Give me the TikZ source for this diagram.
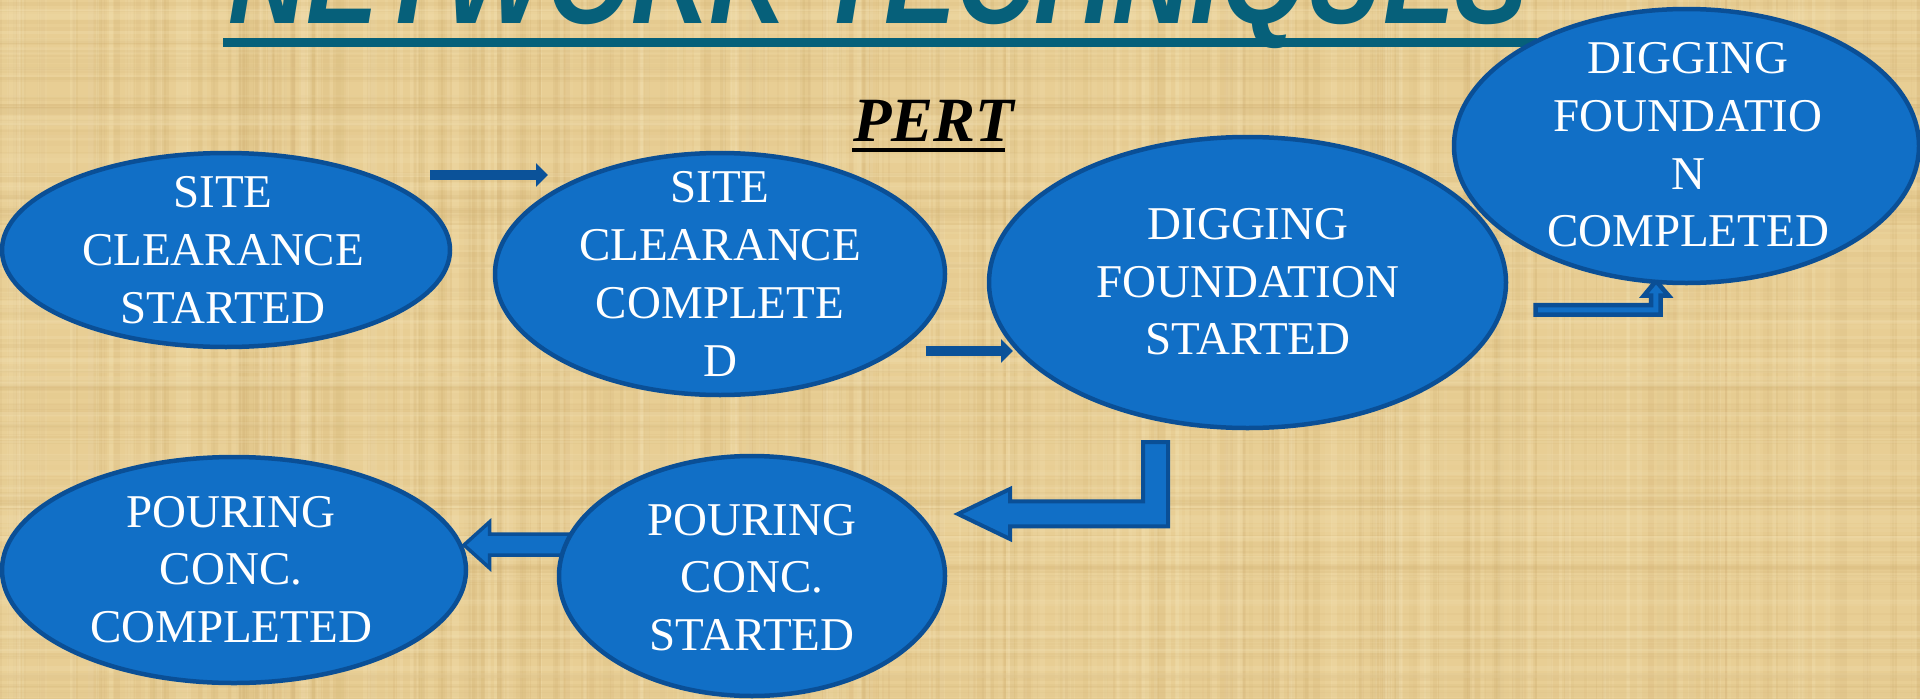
\documentclass[tikz,border=0pt]{standalone}
\usepackage{fontspec}
\setmainfont{Liberation Serif}
\newfontfamily\titlefont{Liberation Sans}
\usetikzlibrary{shapes.geometric,arrows.meta}

\definecolor{papyrus}{RGB}{232,206,148}
\definecolor{papyrusdark}{RGB}{205,172,110}
\definecolor{papyruslight}{RGB}{246,230,186}
\definecolor{eventfill}{RGB}{17,111,198}
\definecolor{eventline}{RGB}{10,79,150}
\definecolor{arrowblue}{RGB}{11,82,153}
\definecolor{titleteal}{RGB}{6,96,122}

\tikzset{
  evt/.style={ellipse, draw=eventline, line width=4.5pt, fill=eventfill, inner sep=0pt},
  evtxt/.style={text=white, align=center, inner sep=0pt,
    font=\fontsize{47}{57.7}\selectfont},
  thinarrow/.style={draw=arrowblue, line width=10.5pt,
    -{Triangle[length=12pt,width=23pt]}},
  blockarrow/.style={draw=eventline, fill=eventfill, line width=4pt, line join=miter}
}

\begin{document}
\begin{tikzpicture}[x=1pt,y=-1pt]
\useasboundingbox (0,0) rectangle (1920,699);
\clip (0,0) rectangle (1920,699);

% papyrus background with fibre streaks
\fill[papyrus] (0,0) rectangle (1920,699);
\pgfmathsetseed{7}
\foreach \i in {1,...,260}{
  \pgfmathsetmacro\xx{rnd*1920}
  \pgfmathsetmacro\ww{1+rnd*7}
  \pgfmathsetmacro\op{0.06+rnd*0.14}
  \fill[papyrusdark, opacity=\op] (\xx,0) rectangle ++(\ww,699);
}
\foreach \i in {1,...,200}{
  \pgfmathsetmacro\xx{rnd*1920}
  \pgfmathsetmacro\ww{1+rnd*6}
  \pgfmathsetmacro\op{0.08+rnd*0.18}
  \fill[papyruslight, opacity=\op] (\xx,0) rectangle ++(\ww,699);
}
\foreach \i in {1,...,120}{
  \pgfmathsetmacro\yy{rnd*699}
  \pgfmathsetmacro\hh{1+rnd*5}
  \pgfmathsetmacro\op{0.05+rnd*0.12}
  \fill[papyrusdark, opacity=\op] (0,\yy) rectangle ++(1920,\hh);
}
\foreach \i in {1,...,100}{
  \pgfmathsetmacro\yy{rnd*699}
  \pgfmathsetmacro\hh{1+rnd*5}
  \pgfmathsetmacro\op{0.06+rnd*0.15}
  \fill[papyruslight, opacity=\op] (0,\yy) rectangle ++(1920,\hh);
}

% heading
\node[anchor=base west, inner sep=0pt, text=titleteal] (title) at (228,23)
  {\resizebox{1300pt}{90pt}{\titlefont\bfseries\itshape NETWORK TECHNIQUES}};
\fill[titleteal] (223,37.7) rectangle (1537,46.5);

\node[anchor=base west, inner sep=0pt,
  font=\fontsize{63}{70}\selectfont\bfseries\itshape] (pert) at (853,141.7) {PERT};
\fill[black] (851.7,148.3) rectangle (1005,151.7);

% free-standing connector ends
\coordinate (a1s) at (430,175);
\coordinate (a1e) at (548,175);
\coordinate (a2s) at (925.5,351);
\coordinate (a2e) at (1013,351);

% connectors (drawn first, events sit on top of them)
\draw[thinarrow] (a1s) -- (a1e);
\draw[thinarrow] (a2s) -- (a2e);

\draw[blockarrow, line width=4.5pt]
  (1535.5,305) -- (1651,305) -- (1651,295.5) -- (1644,295.5) -- (1656,281)
  -- (1668.5,295.5) -- (1660.5,295.5) -- (1660.5,314.5) -- (1535.5,314.5) -- cycle;

\draw[blockarrow]
  (1143,442) -- (1168,442) -- (1168,526.3) -- (1010,526.3) -- (1010,539)
  -- (958,514) -- (1010,489) -- (1010,501.3) -- (1143,501.3) -- cycle;

\draw[blockarrow, line width=3.5pt]
  (575,534) -- (489.5,534) -- (489.5,522) -- (464,545) -- (489.5,568)
  -- (489.5,555) -- (575,555) -- cycle;

% events
\node[evt, minimum width=448pt, minimum height=194pt] (e1) at (226,250) {};
\node[evt, minimum width=450pt, minimum height=242pt] (e2) at (720,274) {};
\node[evt, minimum width=517pt, minimum height=291pt] (e3) at (1247.5,282.5) {};
\node[evt, minimum width=465pt, minimum height=274pt] (e4) at (1686.5,146) {};
\node[evt, minimum width=464pt, minimum height=226pt] (e5) at (234,570) {};
\node[evt, minimum width=386pt, minimum height=240pt] (e6) at (752,576) {};

\node[evtxt] (t1) at (223,250) {SITE\\CLEARANCE\\STARTED};
\node[evtxt] (t2) at (720,274) {SITE\\CLEARANCE\\COMPLETE\\D};
\node[evtxt] (t3) at (1248,281.7) {DIGGING\\FOUNDATION\\STARTED};
\node[evtxt] (t4) at (1688,145) {DIGGING\\FOUNDATIO\\N\\COMPLETED};
\node[evtxt] (t5) at (231,569.5) {POURING\\CONC.\\COMPLETED};
\node[evtxt] (t6) at (752,577.5) {POURING\\CONC.\\STARTED};
\end{tikzpicture}
\end{document}
